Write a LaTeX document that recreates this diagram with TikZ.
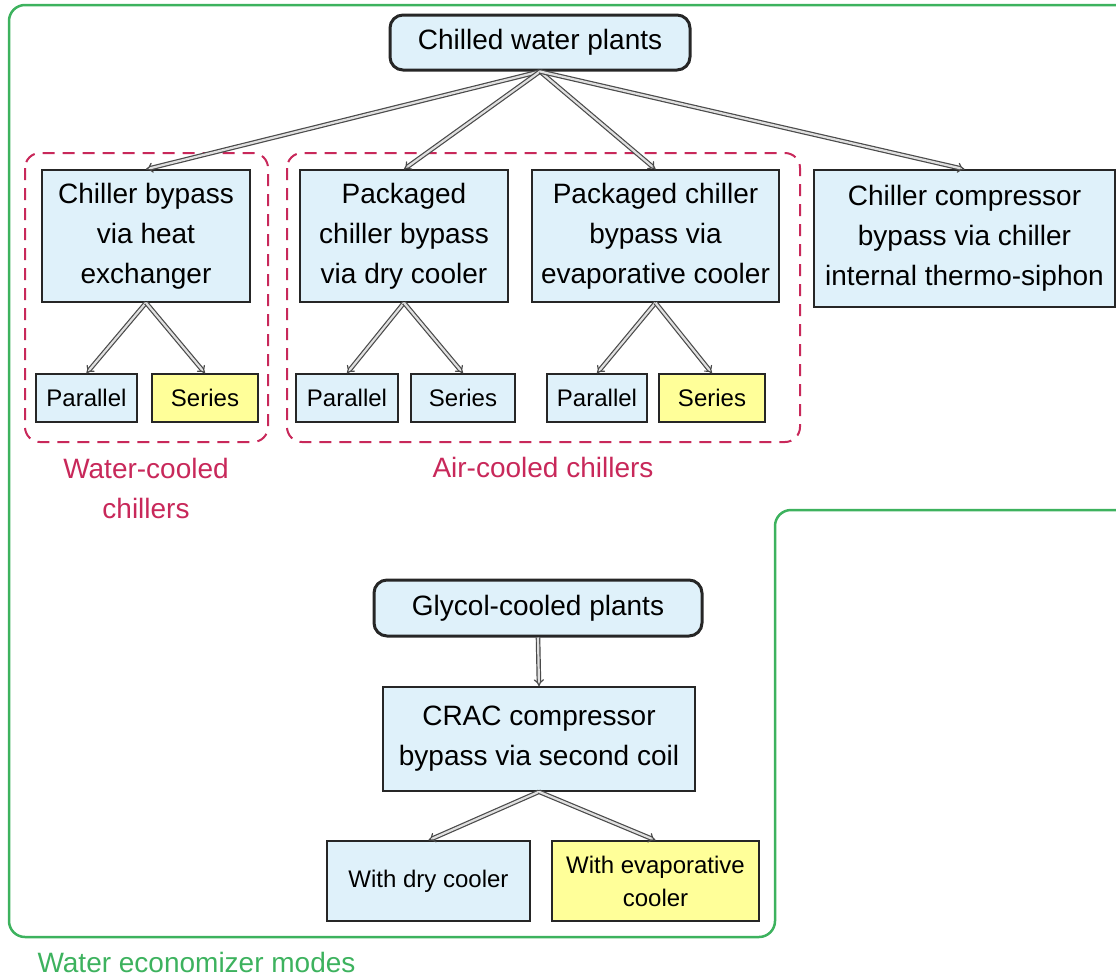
\documentclass[tikz,border=0pt]{standalone}
\usepackage{fontspec}
\setmainfont{Liberation Sans}
\usetikzlibrary{arrows.meta}
\definecolor{boxblue}{HTML}{DFF1FA}
\definecolor{boxyellow}{HTML}{FFFF99}
\definecolor{crim}{HTML}{C8285A}
\definecolor{grn}{HTML}{3DB25E}
\definecolor{arr}{HTML}{4A4A4A}
\tikzset{
  blk/.style={draw=black!85, line width=1.5pt, fill=boxblue, inner sep=0pt, align=center,
    font=\fontsize{28}{40}\selectfont},
  rblk/.style={blk, rounded corners=13pt, line width=3pt},
  sm/.style={draw=black!85, line width=1.5pt, fill=boxblue, inner sep=0pt, align=center,
    minimum height=48pt, font=\fontsize{24}{33}\selectfont},
  yel/.style={fill=boxyellow},
  grp/.style={draw=crim, line width=2pt, dash pattern=on 12pt off 8pt, rounded corners=15pt},
  conn/.style={draw=arr, line width=1.2pt, double=black!12, double distance=2.2pt, -{Implies[length=7pt]}},
  grplabel/.style={text=crim, align=center, font=\fontsize{28}{40}\selectfont},
}
\begin{document}
\begin{tikzpicture}[x=1pt, y=-1pt]
\useasboundingbox (0,0) rectangle (1116,978);
% green outline
\draw[grn, line width=2.5pt, rounded corners=16pt] (1130,510) -- (775,510) -- (775,937) -- (9,937) -- (9,5) -- (1130,5);
\node[anchor=west, text=grn, font=\fontsize{28}{34}\selectfont] (wem) at (34,962) {Water economizer modes};
% groups
\draw[grp] (25,153) rectangle (268,442);
\draw[grp] (287,153) rectangle (800,442);
\node[grplabel] (wcl) at (146,488) {Water-cooled\\chillers};
\node[grplabel] (acl) at (543,467) {Air-cooled chillers};
% nodes
\node[rblk, minimum width=300pt, minimum height=55pt] (cwp) at (540,42.5) {Chilled water plants};
\node[blk, minimum width=208pt, minimum height=132pt] (hx) at (146,236) {Chiller bypass\\via heat\\exchanger};
\node[blk, minimum width=208pt, minimum height=132pt] (pdry) at (404,236) {Packaged\\chiller bypass\\via dry cooler};
\node[blk, minimum width=247pt, minimum height=132pt] (pevap) at (655.5,236) {Packaged chiller\\bypass via\\evaporative cooler};
\node[blk, minimum width=301pt, minimum height=137pt] (comp) at (964.5,238.5) {Chiller compressor\\bypass via chiller\\internal thermo-siphon};
\node[sm, minimum width=101pt] (par1) at (86.5,398) {Parallel};
\node[sm, yel, minimum width=106pt] (ser1) at (205,398) {Series};
\node[sm, minimum width=102pt] (par2) at (347,398) {Parallel};
\node[sm, minimum width=104pt] (ser2) at (463,398) {Series};
\node[sm, minimum width=100pt] (par3) at (597,398) {Parallel};
\node[sm, yel, minimum width=106pt] (ser3) at (712,398) {Series};
\node[rblk, minimum width=328pt, minimum height=56pt] (gly) at (538,608) {Glycol-cooled plants};
\node[blk, minimum width=312pt, minimum height=104pt] (crac) at (539,739) {CRAC compressor\\bypass via second coil};
\node[sm, minimum width=203pt, minimum height=80pt] (dry) at (428.5,881) {With dry cooler};
\node[sm, yel, minimum width=207pt, minimum height=80pt] (evap) at (655.5,881) {With evaporative\\cooler};
% connectors
\draw[conn] (cwp.south) -- (hx.north);
\draw[conn] (cwp.south) -- (pdry.north);
\draw[conn] (cwp.south) -- (pevap.north);
\draw[conn] (cwp.south) -- (comp.north);
\draw[conn] (hx.south) -- (par1.north);
\draw[conn] (hx.south) -- (ser1.north);
\draw[conn] (pdry.south) -- (par2.north);
\draw[conn] (pdry.south) -- (ser2.north);
\draw[conn] (pevap.south) -- (par3.north);
\draw[conn] (pevap.south) -- (ser3.north);
\draw[conn] (gly.south) -- (crac.north);
\draw[conn] (crac.south) -- (dry.north);
\draw[conn] (crac.south) -- (evap.north);
\end{tikzpicture}
\end{document}
